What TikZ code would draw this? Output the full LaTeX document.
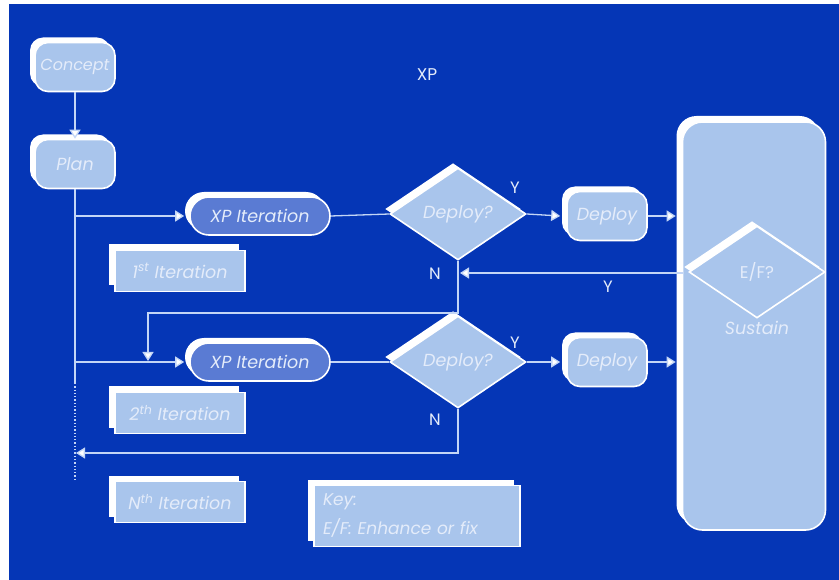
\documentclass[tikz,border=0pt]{standalone}
\usepackage{fontspec}
\setmainfont{Poppins}
\usetikzlibrary{shapes.geometric,shadows,arrows.meta}
\definecolor{bg}{HTML}{0536B6}
\definecolor{lite}{HTML}{A9C5EC}
\definecolor{darkfill}{HTML}{5A7BD3}
\definecolor{ln}{HTML}{C4D6F6}
\definecolor{tx}{HTML}{E4ECFA}
\tikzset{
  base/.style={draw=white, line width=1.6pt, fill=lite, text=tx, inner sep=0pt,
    font=\itshape\fontsize{17.5}{20}\selectfont},
  wsh/.style={general shadow={fill=white, shadow xshift=-#1, shadow yshift=#1}},
  rbox/.style={base, wsh=5pt, rounded corners=13pt, minimum width=80pt, minimum height=49pt},
  xpbox/.style={base, wsh=5pt, fill=darkfill, rounded corners=19pt, minimum width=140pt, minimum height=38pt},
  itbox/.style={base, wsh=6pt, minimum width=130pt, minimum height=41pt},
  dia/.style={base, diamond, wsh=5pt, minimum width=136pt, minimum height=92pt},
  conn/.style={draw=ln, line width=1.3pt},
  arr/.style={conn, -{Triangle[length=9pt,width=11pt,fill=white]}},
  lab/.style={text=tx, font=\fontsize{16.5}{18}\selectfont, inner sep=0pt}
}
\begin{document}
\begin{tikzpicture}[x=1pt,y=-1pt]
\useasboundingbox (0,0) rectangle (839,580);
\fill[white] (0,0) rectangle (839,580);
\fill[bg] (9,4) rectangle (839,580);

\node[lab, font=\fontsize{17}{19}\selectfont] (title) at (427,75) {XP};

\node[rbox, font=\itshape\fontsize{16}{18}\selectfont] (concept) at (75,67) {Concept};
\node[rbox] (plan) at (75,164) {Plan};

\node[base, wsh=6pt, rounded corners=20pt, minimum width=143pt, minimum height=408pt] (sus) at (754,326) {};
\node[dia, font=\fontsize{17}{19}\selectfont] (ef) at (757,272) {E/F?};
\node[lab, font=\itshape\fontsize{17.5}{20}\selectfont] (sustext) at (757,328) {Sustain};

\node[xpbox] (xp1) at (260,216) {XP Iteration};
\node[xpbox] (xp2) at (260,362) {XP Iteration};

\node[itbox] (it1) at (180,271) {1\textsuperscript{st} Iteration};
\node[itbox] (it2) at (180,413) {2\textsuperscript{th} Iteration};
\node[itbox] (itn) at (180,502) {N\textsuperscript{th} Iteration};

\node[base, wsh=6pt, minimum width=206pt, minimum height=61pt, align=left, text width=188pt,
  font=\itshape\fontsize{17}{29}\selectfont] (key) at (417,516)
  {Key:\\E/F: Enhance or fix};

\node[dia] (d1) at (458,214) {Deploy?};
\node[dia] (d2) at (458,362) {Deploy?};

\node[rbox] (dep1) at (607,216) {Deploy};
\node[rbox] (dep2) at (607,362) {Deploy};

% labels
\node[lab] (y1) at (515,188) {Y};
\node[lab] (n1) at (435,274) {N};
\node[lab] (y3) at (608,287) {Y};
\node[lab] (y2) at (515,343) {Y};
\node[lab] (n2) at (435,420) {N};

% coordinates
\coordinate (tmid) at (75,383);
\coordinate (tend) at (75,480);
\coordinate (loopc) at (148,313);
\coordinate (loopend) at (148,361);
\coordinate (retstart) at (683,273);
\coordinate (retend) at (460,273);
\coordinate (backc) at (458,453);
\coordinate (backend) at (76,453);

% connectors
\draw[arr] (concept.south) -- (plan.north);
\draw[conn] (plan.south) -- (tmid);
\draw[conn, dotted] (tmid) -- (tend);
\draw[arr] (plan.south |- xp1.west) -- ([xshift=-5pt]xp1.west);
\draw[arr] (plan.south |- xp2.west) -- ([xshift=-5pt]xp2.west);
\draw[conn] (xp1.east) -- (d1.west);
\draw[conn] (xp2.east) -- (d2.west);
\draw[arr] (d1.east) -- ([xshift=-6pt]dep1.west);
\draw[arr] (d2.east) -- ([xshift=-6pt]dep2.west);
\draw[arr] (dep1.east) -- ([xshift=-6pt]sus.west |- dep1.east);
\draw[arr] (dep2.east) -- ([xshift=-6pt]sus.west |- dep2.east);
\draw[arr] (d1.south) |- (loopc) -- (loopend);
\draw[arr] (retstart) -- (retend);
\draw[arr] (d2.south) -- (backc) -- (backend);
\end{tikzpicture}
\end{document}
